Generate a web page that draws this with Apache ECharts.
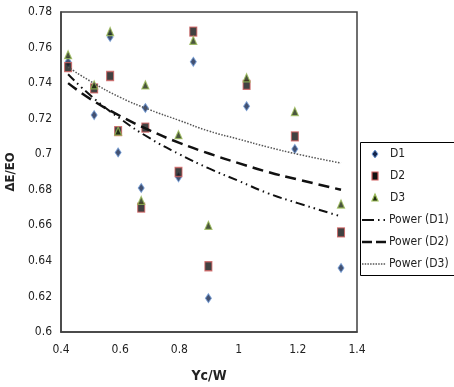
<!DOCTYPE html>
<html><head><meta charset="utf-8">
<script src="https://cdn.jsdelivr.net/npm/echarts@6/dist/echarts.min.js"></script>
<style>html,body{margin:0;padding:0;background:#fff}#c{width:454px;height:387px}</style>
</head><body><div id="c"></div>
<script>
const xVals = [0.424, 0.512, 0.566, 0.593, 0.671, 0.685, 0.797, 0.847, 0.898, 1.027, 1.19, 1.346];
const d1 = [0.752, 0.722, 0.766, 0.701, 0.681, 0.726, 0.687, 0.752, 0.619, 0.727, 0.703, 0.636];
const d2 = [0.749, 0.737, 0.744, 0.713, 0.670, 0.715, 0.690, 0.769, 0.637, 0.739, 0.710, 0.656];
const d3 = [0.756, 0.739, 0.769, 0.713, 0.674, 0.739, 0.711, 0.764, 0.660, 0.743, 0.724, 0.672];
const trendX = [0.424, 0.5, 0.6, 0.7, 0.8, 0.9, 1.0, 1.1, 1.2, 1.346];
const p1 = [0.745, 0.733, 0.720, 0.709, 0.700, 0.692, 0.685, 0.678, 0.6725, 0.665];
const p2 = [0.740, 0.731, 0.7215, 0.7134, 0.7064, 0.7004, 0.695, 0.690, 0.6858, 0.680];
const p3 = [0.749, 0.741, 0.732, 0.725, 0.719, 0.713, 0.7085, 0.704, 0.700, 0.695];
const names = ['D1', 'D2', 'D3', 'Power (D1)', 'Power (D2)', 'Power (D3)'];

const zip = (xs, ys) => xs.map((x, i) => [x, ys[i]]);
const font = "'Liberation Sans Narrow', 'DejaVu Sans Condensed', 'Roboto', sans-serif";
const fmt = v => String(parseFloat(v.toFixed(2)));

const styles = [
  { color: '#14264d', borderColor: '#6f9ad6', borderWidth: 1 },
  { color: '#111', borderColor: '#d06060', borderWidth: 1.2 },
  { color: '#1d2a0e', borderColor: '#9bbb59', borderWidth: 1.2 }
];
const lineStyles = [
  { color: '#111', width: 2, type: [9, 4, 1.5, 4, 1.5, 4] },
  { color: '#111', width: 2.5, type: [11, 6] },
  { color: '#555', width: 1.5, type: [1.5, 1.5] }
];

// legend drawn as graphics
const legY = [154, 176, 198, 220, 242, 264];
const lg = [];
lg.push({ type: 'rect', shape: { x: 360.5, y: 142.5, width: 120, height: 133 }, style: { fill: '#fff', stroke: '#000', lineWidth: 1 }, z: 10 });
lg.push({ type: 'polygon', shape: { points: [[375, legY[0] - 4], [378, legY[0]], [375, legY[0] + 4], [372, legY[0]]] }, style: { fill: styles[0].color, stroke: styles[0].borderColor, lineWidth: 1 }, z: 11 });
lg.push({ type: 'rect', shape: { x: 372, y: legY[1] - 4, width: 6, height: 8 }, style: { fill: styles[1].color, stroke: styles[1].borderColor, lineWidth: 1.2 }, z: 11 });
lg.push({ type: 'polygon', shape: { points: [[375, legY[2] - 4], [378, legY[2] + 3], [372, legY[2] + 3]] }, style: { fill: styles[2].color, stroke: styles[2].borderColor, lineWidth: 1.2 }, z: 11 });
for (let i = 0; i < 3; i++) {
  const ls = lineStyles[i];
  lg.push({ type: 'line', shape: { x1: 362, y1: legY[3 + i], x2: 386, y2: legY[3 + i] },
    style: { stroke: ls.color, lineWidth: ls.width, lineDash: i === 0 ? [12, 4, 1.5, 4, 1.5, 4] : i === 1 ? [10, 4] : [1.5, 1.2] }, z: 11 });
}
names.forEach((n, i) => {
  lg.push({ type: 'text', x: i < 3 ? 390 : 389, y: legY[i], style: { text: n, font: "12px " + font, fill: '#222', textVerticalAlign: 'middle', textAlign: 'left' }, z: 11 });
});

const chart = echarts.init(document.getElementById('c'));
chart.setOption({
  animation: false,
  textStyle: { fontFamily: font },
  grid: { left: 61, right: 97, top: 12, bottom: 55, containLabel: false, outerBoundsMode: 'none',
    show: true, borderColor: '#404040', borderWidth: 1.5, backgroundColor: 'transparent' },
  xAxis: {
    type: 'value', min: 0.4, max: 1.4, interval: 0.2,
    axisLine: { show: true, lineStyle: { color: '#404040', width: 1.5 } },
    axisTick: { show: false }, splitLine: { show: false },
    axisLabel: { formatter: fmt, color: '#222', fontSize: 12, margin: 12, fontFamily: font },
    name: 'Yc/W', nameLocation: 'middle', nameGap: 37,
    nameTextStyle: { fontSize: 14, fontWeight: 'bold', color: '#222', fontFamily: font }
  },
  yAxis: {
    type: 'value', min: 0.6, max: 0.78, interval: 0.02,
    axisLine: { show: true, lineStyle: { color: '#404040', width: 1.5 } },
    axisTick: { show: false }, splitLine: { show: false },
    axisLabel: { formatter: fmt, color: '#222', fontSize: 12, margin: 9, fontFamily: font },
    name: 'ΔE/EO', nameLocation: 'middle', nameGap: 38, nameRotate: 90,
    nameTextStyle: { fontSize: 13, fontWeight: 'bold', color: '#222', fontFamily: font }
  },
  graphic: lg,
  series: [
    { name: names[0], type: 'scatter', data: zip(xVals, d1), symbol: 'diamond', symbolSize: [6, 9], itemStyle: styles[0] },
    { name: names[1], type: 'scatter', data: zip(xVals, d2), symbol: 'rect', symbolSize: [7, 9], itemStyle: styles[1] },
    { name: names[2], type: 'scatter', data: zip(xVals, d3), symbol: 'triangle', symbolSize: [7, 8], itemStyle: styles[2] },
    { name: names[3], type: 'line', data: zip(trendX, p1), smooth: true, symbol: 'none', lineStyle: lineStyles[0] },
    { name: names[4], type: 'line', data: zip(trendX, p2), smooth: true, symbol: 'none', lineStyle: lineStyles[1] },
    { name: names[5], type: 'line', data: zip(trendX, p3), smooth: true, symbol: 'none', lineStyle: lineStyles[2] }
  ]
});
</script></body></html>
